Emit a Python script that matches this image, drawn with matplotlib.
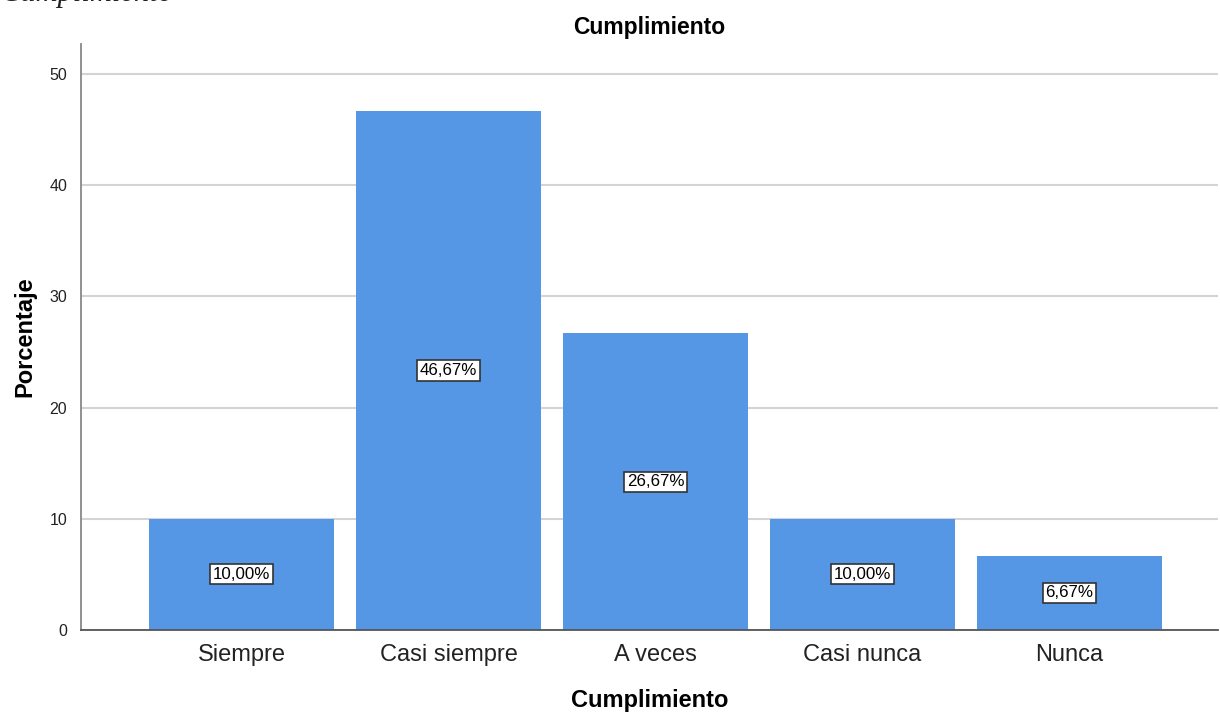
import matplotlib.pyplot as plt

plt.rcParams['font.family'] = ['Liberation Sans', 'DejaVu Sans']

categorias = ["Siempre", "Casi siempre", "A veces", "Casi nunca", "Nunca"]
porcentajes = [10.00, 46.67, 26.67, 10.00, 6.67]
etiquetas = ["10,00%", "46,67%", "26,67%", "10,00%", "6,67%"]

fig = plt.figure(figsize=(12.2, 7.13), dpi=100)
ax = fig.add_axes([81/1220, 1-630/713, (1218-81)/1220, (630-44)/713])

x = range(len(categorias))
ax.bar(x, porcentajes, width=0.894, color='#5596e5', zorder=2)

# etiquetas de valor dentro de cada barra
for i, v in enumerate(porcentajes):
    ax.text(i, v/2, etiquetas[i], ha='center', va='center', fontsize=12.2,
            zorder=3,
            bbox=dict(boxstyle='square,pad=0.15', fc='white', ec='#333333', lw=1.2))

ax.set_xlim(-0.775, 4.717)
ax.set_ylim(0, 52.7)
ax.set_yticks([0, 10, 20, 30, 40, 50])
ax.set_xticks(list(x))
ax.set_xticklabels(categorias, fontsize=17, color='#222222')
ax.tick_params(axis='x', length=0, pad=10)
ax.tick_params(axis='y', length=0, pad=10, labelsize=11.5, labelcolor='#222222')
ax.grid(axis='y', color='#d4d4d4', lw=1.5, zorder=0)

for s in ['top', 'right']:
    ax.spines[s].set_visible(False)
ax.spines['left'].set_color('#888888')
ax.spines['bottom'].set_color('#555555')
ax.spines['left'].set_linewidth(1.3)
ax.spines['bottom'].set_linewidth(1.3)

ax.set_title("Cumplimiento", fontsize=16.5, fontweight='bold', pad=7)
ax.set_xlabel("Cumplimiento", fontsize=17, fontweight='bold', labelpad=17)
ax.set_ylabel("Porcentaje", fontsize=17, fontweight='bold', labelpad=9)

# encabezado cortado en la parte superior
fig.text(0.0, 1 - 1/713, "Cumplimiento", family='Liberation Serif', style='italic',
         fontsize=22, ha='left', va='baseline', color='#222222')

fig.savefig('out.png', dpi=100)
